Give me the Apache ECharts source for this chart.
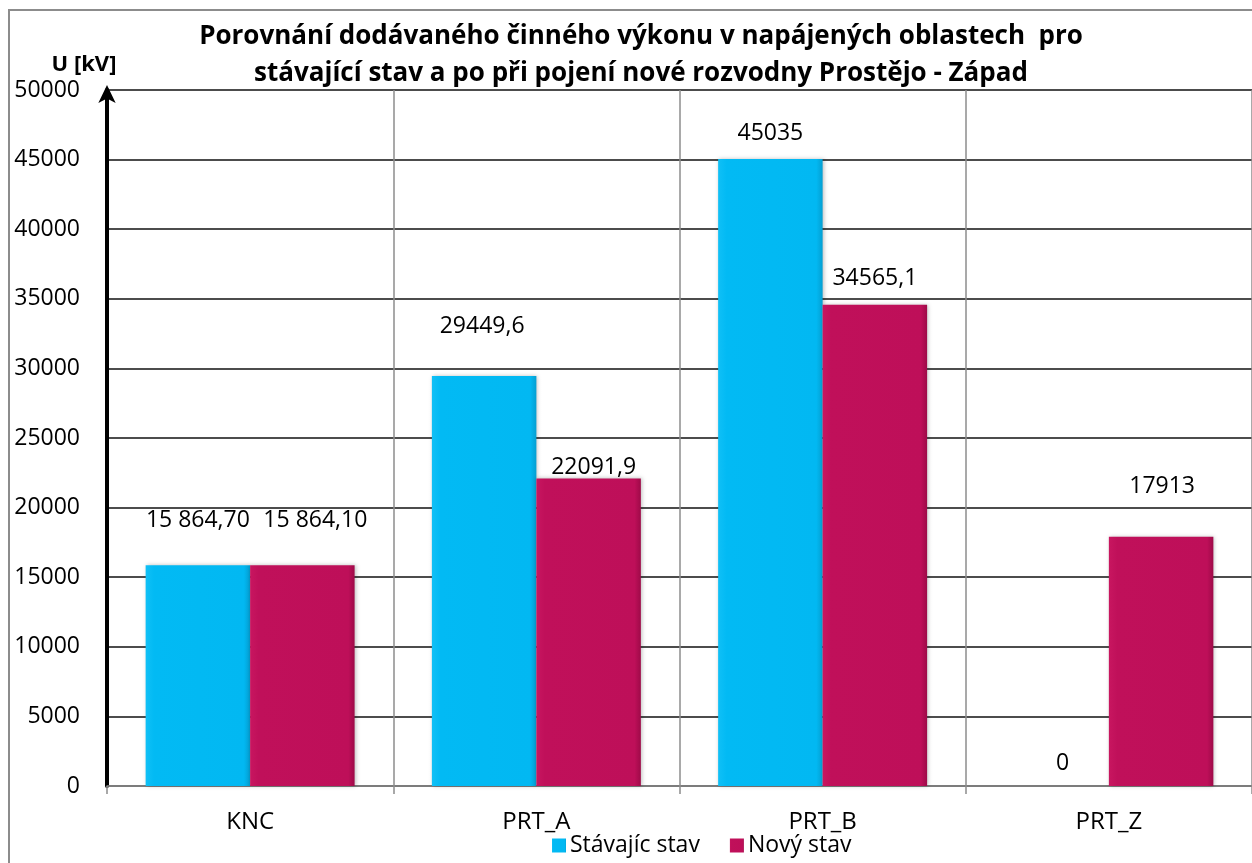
<!DOCTYPE html>
<html>
<head>
<meta charset="utf-8">
<script src="https://cdn.jsdelivr.net/npm/echarts@6/dist/echarts.min.js"></script>
<style>
  html, body { margin: 0; padding: 0; background: #fff; }
  #main { width: 1252px; height: 863px; }
</style>
</head>
<body>
<div id="main"></div>
<script>
// data
var categories = ['KNC', 'PRT_A', 'PRT_B', 'PRT_Z']
var seriesNames = ['Stávajíc stav', 'Nový stav']
var stavajici = [15864.7, 29449.6, 45035, 0]
var novy = [15864.1, 22091.9, 34565.1, 17913]
var stavajiciLabels = ['15 864,70', '29449,6', '45035', '0']
var novyLabels = ['15 864,10', '22091,9', '34565,1', '17913']
var yTicks = { min: 0, max: 50000, interval: 5000 }

// label placement as in the original (hand moved in excel)
var blueLabelPos = [[0, 33], [-2, 38], [0, 14], [6, 11]]
var redLabelPos = [[13, 33], [5, 0], [0, 15], [1, 39]]

var FONT = 'Open Sans'

function makeData (values, texts, pos) {
  var out = []
  for (let i = 0; i < values.length; i++) {
    out.push({
      value: values[i],
      label: {
        formatter: texts[i],
        distance: pos[i][1],
        offset: [pos[i][0], 0]
      }
    })
  }
  return out
}

var myChart = echarts.init(document.getElementById('main'))

var option = {
  backgroundColor: '#fff',
  animation: false,
  textStyle: { fontFamily: FONT },
  title: {
    text: 'Porovnání dodávaného činného výkonu v napájených oblastech  pro\nstávající stav a po při pojení nové rozvodny Prostějo - Západ',
    left: 636,
    top: 13,
    textAlign: 'center',
    textStyle: {
      fontFamily: FONT,
      fontWeight: 'bold',
      fontSize: 26,
      lineHeight: 37,
      color: '#000'
    }
  },
  graphic: [
    {
      type: 'rect',
      shape: { x: 9, y: 10, width: 1260, height: 900 },
      style: { fill: 'none', stroke: '#8c8c8c', lineWidth: 2 },
      silent: true
    }
  ],
  legend: {
    data: seriesNames,
    left: 547,
    top: 829,
    itemWidth: 14,
    itemHeight: 14,
    itemGap: 30,
    icon: 'rect',
    textStyle: { fontFamily: FONT, fontSize: 23, color: '#000', padding: [0, 0, 0, -1] }
  },
  grid: {
    left: 107,
    right: 0,
    top: 90,
    bottom: 77,
    containLabel: false
  },
  xAxis: {
    type: 'category',
    data: categories,
    axisLine: { lineStyle: { color: '#8c8c8c', width: 1.5 } },
    axisTick: { show: true, length: 8, lineStyle: { color: '#8c8c8c', width: 1.5 } },
    axisLabel: { fontFamily: FONT, fontSize: 24, color: '#000', margin: 24 },
    splitLine: { show: true, lineStyle: { color: '#8c8c8c', width: 1.5 } }
  },
  yAxis: {
    type: 'value',
    min: yTicks.min,
    max: yTicks.max,
    interval: yTicks.interval,
    name: 'U [kV]',
    nameLocation: 'end',
    nameGap: 14,
    nameTextStyle: {
      fontFamily: FONT,
      fontWeight: 'bold',
      fontSize: 22,
      color: '#000',
      align: 'center',
      padding: [0, 46, 0, 0]
    },
    axisLine: {
      show: true,
      symbol: ['none', 'arrow'],
      symbolSize: [13, 18],
      symbolOffset: [0, 5],
      lineStyle: { color: '#000', width: 4 }
    },
    axisTick: { show: false },
    axisLabel: {
      fontFamily: FONT,
      fontSize: 23,
      color: '#000',
      margin: 27,
      formatter: function (v) { return String(v) }
    },
    splitLine: { show: true, lineStyle: { color: '#111', width: 1.5 } }
  },
  series: [
    {
      name: seriesNames[0],
      type: 'bar',
      barGap: '0%',
      barCategoryGap: '27%',
      data: makeData(stavajici, stavajiciLabels, blueLabelPos),
      itemStyle: {
        color: new echarts.graphic.LinearGradient(0, 0, 1, 0, [
          { offset: 0, color: '#10c0f6' },
          { offset: 0.08, color: '#02baf4' },
          { offset: 0.94, color: '#02b8f2' },
          { offset: 1, color: '#049fd2' }
        ]),
        shadowColor: 'rgba(0,0,0,0.25)',
        shadowBlur: 4,
        shadowOffsetX: 1
      },
      label: {
        show: true,
        position: 'top',
        fontFamily: FONT,
        fontSize: 23,
        color: '#000'
      }
    },
    {
      name: seriesNames[1],
      type: 'bar',
      data: makeData(novy, novyLabels, redLabelPos),
      itemStyle: {
        color: new echarts.graphic.LinearGradient(0, 0, 1, 0, [
          { offset: 0, color: '#c81660' },
          { offset: 0.08, color: '#c0105a' },
          { offset: 0.94, color: '#be0f59' },
          { offset: 1, color: '#9e0a48' }
        ]),
        shadowColor: 'rgba(0,0,0,0.25)',
        shadowBlur: 4,
        shadowOffsetX: 1
      },
      label: {
        show: true,
        position: 'top',
        fontFamily: FONT,
        fontSize: 23,
        color: '#000'
      }
    }
  ]
}

myChart.setOption(option, true)
</script>
</body>
</html>
